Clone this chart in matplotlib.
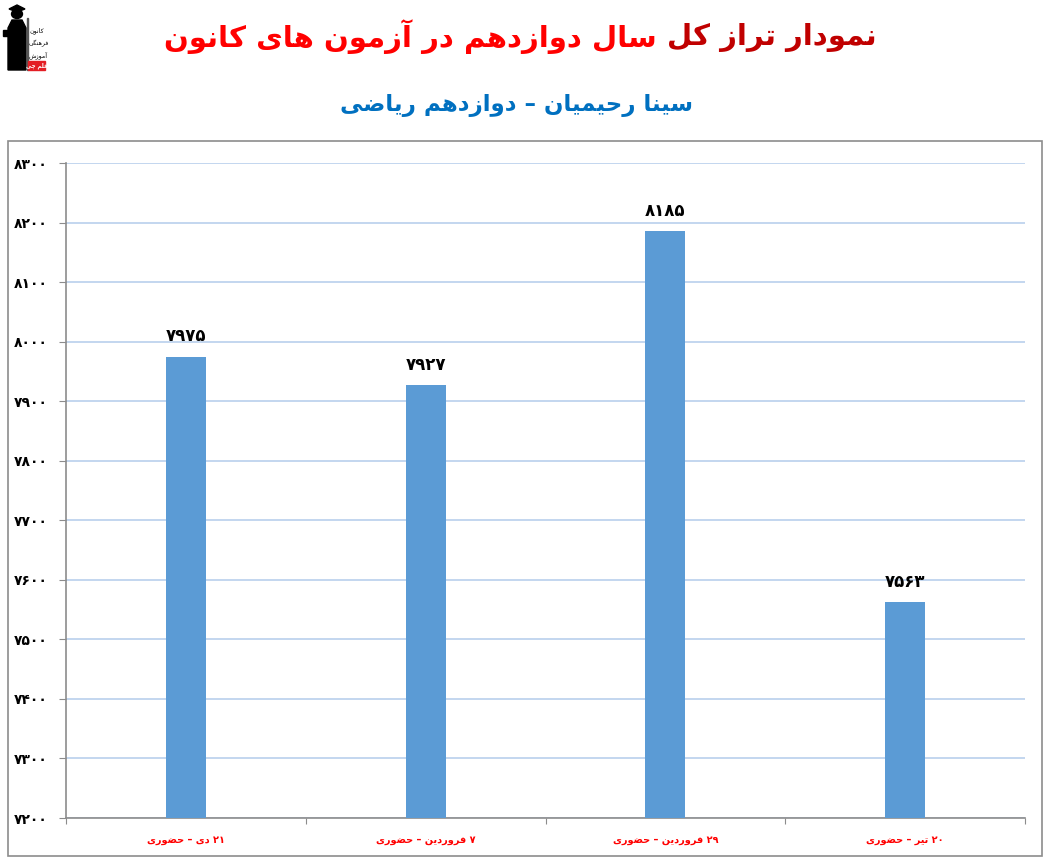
import re
import matplotlib
matplotlib.use('Agg')
import matplotlib.pyplot as plt
from matplotlib.patches import Rectangle, Polygon, Circle

# data
exams = ['۲۱ دی – حضوری', '۷ فروردین – حضوری', '۲۹ فروردین – حضوری', '۲۰ تیر – حضوری']
scores = [7975, 7927, 8185, 7563]
yticks = list(range(7200, 8301, 100))

title_dark = 'نمودار تراز کل'
title_light = 'سال دوازدهم در آزمون های کانون'
subtitle = 'سینا رحیمیان – دوازدهم ریاضی'
logo_words = ['کانون', 'فرهنگی', 'آموزش']
logo_red = 'قلم چی'

# Arabic presentation forms: isolated, final, initial, medial
FORMS = {
    'ا': ('\uFE8D', '\uFE8E', None, None),
    'آ': ('\uFE81', '\uFE82', None, None),
    'د': ('\uFEA9', '\uFEAA', None, None),
    'ر': ('\uFEAD', '\uFEAE', None, None),
    'ز': ('\uFEAF', '\uFEB0', None, None),
    'و': ('\uFEED', '\uFEEE', None, None),
    'ب': ('\uFE8F', '\uFE90', '\uFE91', '\uFE92'),
    'ت': ('\uFE95', '\uFE96', '\uFE97', '\uFE98'),
    'ح': ('\uFEA1', '\uFEA2', '\uFEA3', '\uFEA4'),
    'س': ('\uFEB1', '\uFEB2', '\uFEB3', '\uFEB4'),
    'ش': ('\uFEB5', '\uFEB6', '\uFEB7', '\uFEB8'),
    'ض': ('\uFEBD', '\uFEBE', '\uFEBF', '\uFEC0'),
    'ف': ('\uFED1', '\uFED2', '\uFED3', '\uFED4'),
    'ق': ('\uFED5', '\uFED6', '\uFED7', '\uFED8'),
    'ل': ('\uFEDD', '\uFEDE', '\uFEDF', '\uFEE0'),
    'م': ('\uFEE1', '\uFEE2', '\uFEE3', '\uFEE4'),
    'ن': ('\uFEE5', '\uFEE6', '\uFEE7', '\uFEE8'),
    'ه': ('\uFEE9', '\uFEEA', '\uFEEB', '\uFEEC'),
    'ک': ('\uFB8E', '\uFB8F', '\uFB90', '\uFB91'),
    'گ': ('\uFB92', '\uFB93', '\uFB94', '\uFB95'),
    'چ': ('\uFB7A', '\uFB7B', '\uFB7C', '\uFB7D'),
    'ی': ('\uFBFC', '\uFBFD', '\uFBFE', '\uFBFF'),
}


def fa(text):
    # shape letters and lay them out right-to-left
    chars = list(text)
    out = []
    for i, c in enumerate(chars):
        if c not in FORMS:
            out.append(c)
            continue
        iso, fin, ini, med = FORMS[c]
        prev = chars[i - 1] if i > 0 else ''
        nxt = chars[i + 1] if i + 1 < len(chars) else ''
        jp = prev in FORMS and FORMS[prev][2] is not None
        jn = ini is not None and nxt in FORMS
        if jp and jn:
            out.append(med)
        elif jp:
            out.append(fin)
        elif jn:
            out.append(ini)
        else:
            out.append(iso)
    s = ''.join(out)[::-1]
    return re.sub(r'[0-9\u06F0-\u06F9]+', lambda m: m.group(0)[::-1], s)


DIG = str.maketrans('0123456789', '۰۱۲۳۴۵۶۷۸۹')


def fnum(v):
    return str(v).translate(DIG)


plt.rcParams['font.family'] = ['DejaVu Sans']

W, H = 1050, 863
fig = plt.figure(figsize=(W / 100, H / 100), dpi=100)
fig.patch.set_facecolor('white')


def px(x, y):
    return (x / W, 1 - y / H)


# outer frame
fig.add_artist(Rectangle(px(8, 856), (1042 - 8) / W, (856 - 141) / H,
                         transform=fig.transFigure, fill=False, edgecolor='#8c8c8c', lw=1.2))

ax = fig.add_axes([66 / W, 1 - 818 / H, (1025 - 66) / W, (818 - 163) / H])
x = [i + 0.5 for i in range(len(scores))]
ax.bar(x, scores, width=0.167, color='#5b9bd5', zorder=3)
for xi, v in zip(x, scores):
    ax.annotate(fnum(v), (xi, v), xytext=(0, 8), textcoords='offset points',
                ha='center', va='bottom', fontsize=12, fontweight='bold', color='black')

ax.set_xlim(0, 4)
ax.set_ylim(7200, 8300)
ax.set_yticks(yticks)
ax.set_yticklabels([fnum(t) for t in yticks], fontsize=10, fontweight='bold')
ax.set_xticks(range(5))
ax.set_xticklabels([])
ax.set_xticks(x, minor=True)
ax.set_xticklabels([fa(e) for e in exams], minor=True, fontsize=7,
                   fontweight='bold', color='#ff0000')
ax.tick_params(axis='x', which='major', length=4, color='#8c8c8c')
ax.tick_params(axis='x', which='minor', length=0, pad=12)
ax.tick_params(axis='y', length=5, color='#8c8c8c', pad=8)
ax.grid(axis='y', color='#bed3ee', lw=1.3, zorder=0)
for s in ['top', 'right']:
    ax.spines[s].set_visible(False)
for s in ['left', 'bottom']:
    ax.spines[s].set_color('#8c8c8c')
    ax.spines[s].set_linewidth(1.2)

# title in two colours
t1 = fig.text(0, 1 - 37 / H, fa(title_dark), ha='left', va='center',
              fontsize=21, fontweight='bold', color='#c00000')
t2 = fig.text(0, 1 - 37 / H, fa(title_light), ha='left', va='center',
              fontsize=21, fontweight='bold', color='#ff0000')
r = fig.canvas.get_renderer()
w1 = t1.get_window_extent(r).width
w2 = t2.get_window_extent(r).width
gap = 10
x0 = 520 - (w1 + w2 + gap) / 2
t2.set_x(x0 / W)
t1.set_x((x0 + w2 + gap) / W)

fig.text(516 / W, 1 - 105 / H, fa(subtitle), ha='center', va='center',
         fontsize=16.5, fontweight='bold', color='#0070c0')

# logo: graduate figure with text
gown = [(8, 70), (8, 28), (12, 20), (22, 20), (26, 28), (26, 70)]
fig.add_artist(Polygon([px(*p) for p in gown], closed=True,
                       transform=fig.transFigure, color='black'))
fig.add_artist(Circle(px(17, 14), 4.5 / H, transform=fig.transFigure, color='black'))
fig.add_artist(Polygon([px(*p) for p in [(9, 9), (17, 5), (25, 9), (17, 12)]], closed=True,
                       transform=fig.transFigure, color='black'))
fig.add_artist(Rectangle(px(3, 36), 8 / W, 6 / H, transform=fig.transFigure, color='black'))
fig.add_artist(Rectangle(px(27, 70), 1 / W, 52 / H, transform=fig.transFigure, color='#555555'))
for i, word in enumerate(logo_words):
    fig.text(29 / W, 1 - (31 + i * 12) / H, fa(word), ha='left', va='center',
             fontsize=4.5, color='black')
fig.add_artist(Rectangle(px(28, 70), 17 / W, 9 / H, transform=fig.transFigure, color='#e31e24'))
fig.text(36.5 / W, 1 - 65.5 / H, fa(logo_red), ha='center', va='center',
         fontsize=4, color='white', fontweight='bold')

fig.savefig('out.png', dpi=100)
